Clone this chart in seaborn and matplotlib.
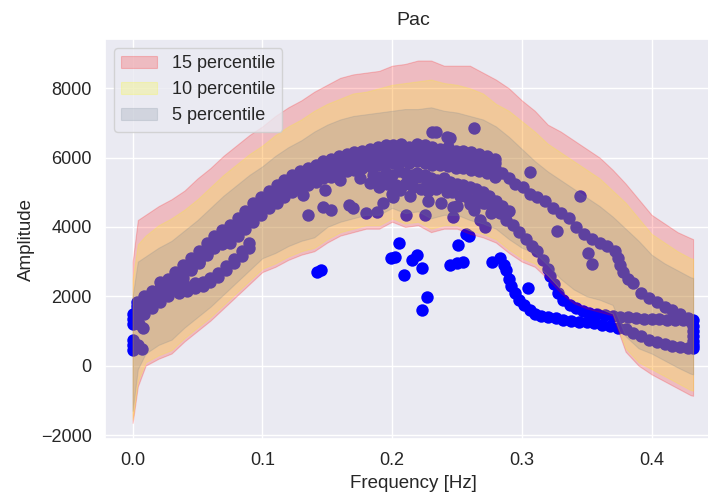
import matplotlib
matplotlib.use("Agg")
import matplotlib.pyplot as plt
import numpy as np
import pandas as pd
import seaborn as sns

# ---------------- percentile bands ----------------
band_freq = [0.0, 0.004, 0.01, 0.02, 0.03, 0.04, 0.05, 0.06, 0.07, 0.08, 0.09, 0.10,
             0.11, 0.12, 0.13, 0.14, 0.15, 0.16, 0.17, 0.18, 0.19, 0.20, 0.21, 0.22,
             0.23, 0.24, 0.25, 0.26, 0.27, 0.28, 0.29, 0.30, 0.31, 0.32, 0.33, 0.34,
             0.35, 0.36, 0.37, 0.38, 0.39, 0.40, 0.41, 0.42, 0.43, 0.432]

upper15 = [3000, 4200, 4350, 4600, 4800, 5050, 5400, 5700, 6050, 6350, 6650, 6900,
           7200, 7450, 7650, 7900, 8100, 8300, 8400, 8450, 8500, 8650, 8700, 8800,
           8800, 8650, 8650, 8650, 8450, 8250, 8000, 7650, 7350, 6950, 6750, 6500,
           6250, 6000, 5650, 5250, 4800, 4350, 4100, 3850, 3680, 3650]
lower15 = [-1650, -600, 0, 200, 350, 700, 1000, 1300, 1650, 2000, 2350, 2700,
           2850, 3050, 3200, 3300, 3550, 3750, 3850, 3950, 3950, 4150, 4000, 4050,
           3850, 3950, 3950, 3800, 3700, 3550, 3250, 3000, 2850, 2500, 2100, 1800,
           1650, 1550, 1450, 400, 0, -250, -450, -650, -850, -870]

upper10 = [2500, 3500, 3750, 4050, 4250, 4500, 4800, 5150, 5500, 5800, 6100, 6350,
           6650, 6900, 7100, 7350, 7550, 7700, 7850, 7900, 8000, 8100, 8150, 8200,
           8250, 8150, 8100, 8000, 7850, 7550, 7350, 7050, 6750, 6400, 6150, 5900,
           5650, 5400, 5050, 4700, 4250, 3800, 3550, 3300, 3100, 3080]
lower10 = [-1550, -450, 100, 300, 450, 800, 1100, 1400, 1750, 2100, 2450, 2800,
           2950, 3150, 3300, 3400, 3650, 3850, 3950, 4050, 4050, 4250, 4100, 4150,
           3950, 4050, 4050, 3900, 3800, 3650, 3350, 3100, 2950, 2600, 2200, 1900,
           1750, 1650, 1500, 500, 100, -100, -300, -500, -700, -720]

upper5 = [2000, 3000, 3150, 3400, 3600, 3900, 4200, 4550, 4900, 5200, 5500, 5750,
          6050, 6300, 6500, 6750, 6950, 7100, 7200, 7250, 7300, 7350, 7400, 7400,
          7450, 7350, 7300, 7200, 7100, 6900, 6600, 6250, 5900, 5600, 5350, 5100,
          4850, 4600, 4300, 3950, 3600, 3200, 2950, 2750, 2550, 2530]
lower5 = [-1300, -100, 350, 600, 750, 1100, 1400, 1700, 2050, 2400, 2750, 3100,
          3250, 3450, 3600, 3700, 4000, 4150, 4250, 4350, 4350, 4550, 4400, 4450,
          4250, 4350, 4350, 4200, 4100, 3950, 3650, 3400, 3250, 2900, 2500, 2200,
          2000, 1900, 1750, 850, 500, 350, 150, -50, -230, -250]

# ---------------- scatter points ----------------
main_freq = [0.003, 0.009, 0.015, 0.021, 0.027, 0.033, 0.039, 0.045, 0.051, 0.057,
             0.063, 0.069, 0.075, 0.081, 0.087, 0.093, 0.099, 0.105, 0.111, 0.117,
             0.123, 0.129, 0.135, 0.141, 0.147, 0.153, 0.159, 0.165, 0.171, 0.177,
             0.183, 0.189, 0.195, 0.201, 0.207, 0.213, 0.219, 0.225, 0.231, 0.237,
             0.243, 0.249, 0.255, 0.261, 0.267, 0.273, 0.279]
main_upper = [1850, 2000, 2150, 2400, 2500, 2700, 2900, 3100, 3300, 3550, 3750, 3900,
              4050, 4250, 4450, 4700, 4850, 5050, 5200, 5350, 5500, 5600, 5700, 5800,
              5900, 5950, 6050, 6100, 6150, 6200, 6250, 6300, 6350, 6350, 6400, 6300,
              6400, 6350, 6300, 6250, 6300, 6200, 6200, 6150, 6100, 6050, 5950]
main_upper_mid = [1730, 1880, 2030, 2250, 2380, 2580, 2780, 2980, 3180, 3430, 3630, 3780,
                  3930, 4130, 4330, 4550, 4730, 4930, 5080, 5230, 5380, 5480, 5580, 5680,
                  5780, 5830, 5930, 5980, 6030, 6080, 6130, 6180, 6230, 6230, 6280, 6230,
                  6280, 6230, 6180, 6180, 6130, 6080, 6080, 6030, 5980, 5930, 5830]
main_center = [1600, 1750, 1900, 2100, 2250, 2450, 2650, 2850, 3050, 3300, 3500, 3650,
               3800, 4000, 4200, 4400, 4600, 4800, 4950, 5100, 5250, 5350, 5450, 5550,
               5650, 5700, 5800, 5850, 5900, 5950, 6000, 6050, 6100, 6100, 6150, 6100,
               6150, 6100, 6050, 6050, 6000, 5950, 5950, 5900, 5850, 5800, 5700]
main_lower_mid = [1470, 1620, 1770, 1970, 2120, 2320, 2520, 2800, 3000, 3250, 3450, 3580,
                  3680, 3870, 4070, 4270, 4470, 4670, 4820, 4970, 5120, 5220, 5320, 5420,
                  5520, 5570, 5670, 5720, 5770, 5820, 5870, 5920, 5970, 5970, 6020, 5970,
                  6020, 5970, 5920, 5920, 5870, 5820, 5820, 5770, 5720, 5670, 5570]
main_lower = [1350, 1500, 1650, 1850, 2000, 2200, 2400, 2750, 2950, 3200, 3400, 3500,
              3550, 3750, 3950, 4150, 4350, 4550, 4700, 4850, 5000, 5100, 5200, 5300,
              5400, 5450, 5550, 5600, 5650, 5700, 5750, 5800, 5850, 5850, 5900, 5850,
              5900, 5850, 5800, 5800, 5750, 5700, 5700, 5650, 5600, 5550, 5450]

strand_b_freq = [0.036, 0.042, 0.048, 0.054, 0.060, 0.066, 0.072, 0.078, 0.084, 0.090]
strand_b_amp = [2100, 2150, 2250, 2300, 2400, 2550, 2750, 2950, 3150, 3400]
strand_b_amp2 = [2220, 2270, 2370, 2420, 2520, 2670, 2870, 3070, 3300, 3550]

start_freq = [0.0, 0.0, 0.0, 0.0, 0.0, 0.0, 0.005, 0.008, 0.004, 0.007]
start_amp = [1500, 1350, 1200, 750, 600, 450, 1200, 1100, 600, 480]

strand2_freq = [0.185, 0.19, 0.195, 0.2, 0.205, 0.21, 0.215, 0.22, 0.225, 0.23, 0.235,
                0.24, 0.245, 0.25, 0.255, 0.26, 0.265, 0.27, 0.275, 0.28, 0.285, 0.29]
strand2_amp = [5500, 5450, 5550, 5500, 5600, 5550, 5500, 5450, 5500, 5400, 5350,
               5400, 5300, 5250, 5200, 5150, 5100, 5000, 4900, 4750, 4600, 4450]

fill_freq = [0.19, 0.196, 0.203, 0.21, 0.216, 0.222, 0.228, 0.234, 0.24, 0.246, 0.252,
             0.258, 0.264, 0.27, 0.276, 0.2, 0.214, 0.228, 0.238, 0.25, 0.26]
fill_amp = [5150, 5250, 5200, 5250, 5150, 5100, 5050, 5100, 5150, 5000, 4900,
            4850, 4800, 4700, 4400, 4950, 4900, 4750, 4700, 4600, 4650]

cluster_freq = [0.131, 0.135, 0.147, 0.148, 0.153, 0.160, 0.167, 0.170, 0.175, 0.180,
                0.183, 0.188, 0.193, 0.201, 0.206, 0.211, 0.212, 0.219, 0.225, 0.227,
                0.232, 0.242, 0.247, 0.247, 0.255, 0.263, 0.268, 0.268, 0.272, 0.278]
cluster_amp = [4920, 4340, 4580, 5060, 4480, 5350, 4620, 4540, 5410, 4390,
               5260, 4440, 4680, 4870, 5060, 4340, 5350, 5550, 4340, 5260,
               5250, 5000, 4580, 4290, 4980, 4480, 4780, 4200, 4000, 4580]

single_freq = [0.231, 0.234, 0.242, 0.245, 0.263, 0.306, 0.345, 0.327, 0.351, 0.354]
single_amp = [6740, 6740, 6590, 6560, 6850, 5590, 4900, 3880, 3250, 2940]

desc_up_freq = [0.285, 0.29, 0.295, 0.301, 0.306, 0.312, 0.318, 0.324, 0.33, 0.336,
                0.342, 0.348, 0.354, 0.36, 0.366, 0.372, 0.374, 0.376, 0.378, 0.382,
                0.386, 0.392, 0.398, 0.404, 0.41, 0.416, 0.422, 0.428, 0.432]
desc_up_amp = [5550, 5400, 5250, 5150, 4950, 4850, 4750, 4550, 4400, 4250,
               4000, 3800, 3650, 3550, 3450, 3300, 3100, 2900, 2700, 2500,
               2380, 2100, 1950, 1850, 1700, 1600, 1500, 1380, 1320]

desc_low_freq = [0.272, 0.278, 0.283, 0.288, 0.293, 0.298, 0.303, 0.308, 0.312, 0.316,
                 0.32, 0.322, 0.325, 0.328, 0.332, 0.337, 0.342, 0.347, 0.352, 0.358,
                 0.364, 0.37, 0.376, 0.382, 0.388, 0.394, 0.4, 0.406, 0.412, 0.418,
                 0.424, 0.43]
desc_low_amp = [4700, 4550, 4400, 4200, 4050, 3850, 3650, 3450, 3300, 3050,
                2800, 2600, 2350, 2100, 1900, 1750, 1650, 1580, 1520, 1500,
                1460, 1430, 1410, 1390, 1380, 1360, 1350, 1340, 1330, 1320,
                1310, 1300]

branch_freq = [0.283, 0.286, 0.288, 0.29, 0.292, 0.295, 0.298, 0.302, 0.306, 0.31,
               0.315, 0.32, 0.326, 0.332, 0.338, 0.344, 0.35, 0.356, 0.362, 0.368,
               0.374, 0.38, 0.386, 0.392, 0.398, 0.404, 0.41, 0.416, 0.422, 0.428,
               0.432]
branch_amp = [3100, 2900, 2750, 2500, 2300, 2100, 1900, 1750, 1600, 1500,
              1430, 1400, 1380, 1330, 1300, 1270, 1250, 1220, 1170, 1130,
              1100, 1050, 950, 850, 750, 680, 620, 560, 540, 520, 500]

edge_freq = [0.432, 0.432, 0.432, 0.432, 0.432]
edge_amp = [1150, 1000, 850, 700, 600]

outlier_freq = [0.142, 0.145, 0.199, 0.202, 0.205, 0.209, 0.215, 0.219, 0.223, 0.227,
                0.223, 0.245, 0.25, 0.255, 0.251, 0.257, 0.259, 0.277, 0.305]
outlier_amp = [2700, 2760, 3110, 3140, 3540, 2620, 3050, 3190, 2820, 1990,
               1600, 2900, 2950, 3000, 3470, 3810, 3750, 2990, 2240]

freq_all = (main_freq * 5 + strand_b_freq * 2 + start_freq + strand2_freq + fill_freq
            + cluster_freq + single_freq + desc_up_freq + desc_low_freq + branch_freq
            + edge_freq + outlier_freq)
amp_all = (main_upper + main_upper_mid + main_center + main_lower_mid + main_lower
           + strand_b_amp + strand_b_amp2 + start_amp + strand2_amp + fill_amp
           + cluster_amp + single_amp + desc_up_amp + desc_low_amp + branch_amp
           + edge_amp + outlier_amp)
points = pd.DataFrame({"freq": freq_all, "amp": amp_all})

# ---------------- drawing ----------------
sns.set_theme(style="darkgrid")
plt.rcParams["font.family"] = ["Liberation Sans", "DejaVu Sans"]
plt.rcParams.update({
    "xtick.labelsize": 13,
    "ytick.labelsize": 13,
    "axes.labelsize": 13.5,
    "axes.titlesize": 14,
    "legend.fontsize": 13,
})

fig = plt.figure(figsize=(7.08, 4.93), dpi=100)
ax = fig.add_axes([0.1483, 0.1095, 0.870, 0.8114])

sns.scatterplot(data=points, x="freq", y="amp", color="blue", s=80,
                linewidth=0, ax=ax, legend=False)

ax.fill_between(band_freq, lower15, upper15, color="red", alpha=0.2,
                linewidth=0.8, label="15 percentile")
ax.fill_between(band_freq, lower10, upper10, color="yellow", alpha=0.2,
                linewidth=0.8, label="10 percentile")
ax.fill_between(band_freq, lower5, upper5, color="slategray", alpha=0.2,
                linewidth=0.8, label="5 percentile")

ax.set_xlim(-0.0213, 0.4535)
ax.set_ylim(-2115, 9420)
ax.set_xticks([0.0, 0.1, 0.2, 0.3, 0.4])
ax.set_yticks([-2000, 0, 2000, 4000, 6000, 8000])
ax.set_title("Pac", pad=10)
ax.set_xlabel("Frequency [Hz]")
ax.set_ylabel("Amplitude")
ax.legend(loc="upper left")

fig.savefig("out.png", dpi=100)
